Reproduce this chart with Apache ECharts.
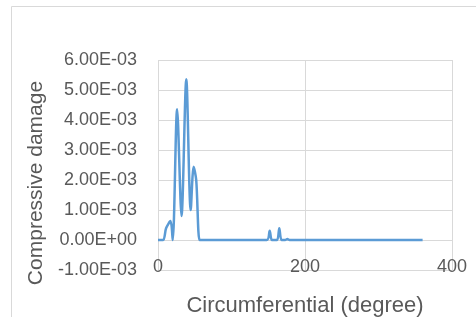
<!DOCTYPE html>
<html lang="en">

<head>
  <meta charset="UTF-8">
  <title>Compressive damage</title>
  <style>
    html, body {
      margin: 0;
      padding: 0;
      background-color: #fff;
    }

    .chart {
      width: 476px;
      height: 317px;
    }
  </style>
</head>

<body>
  <div class="chart"></div>
  <script src="https://cdn.jsdelivr.net/npm/echarts@6/dist/echarts.min.js"></script>
  <script>
    // circumferential position (degree) and compressive damage
    const degrees = [0, 7, 11, 17, 20, 26, 32, 38.5, 44.5, 48.5, 52, 56.5, 60,
      148, 152, 155, 162, 165, 168, 173, 176, 179, 360]
    const damage = [0, 0, 0.39e-3, 0.63e-3, 0, 4.36e-3, 0.8e-3, 5.36e-3, 1.0e-3, 2.44e-3, 2.0e-3, 0, 0,
      0, 0.31e-3, 0, 0, 0.39e-3, 0, 0, 0.03e-3, 0, 0]
    const xTicks = [0, 200, 400]
    const yTicks = [-1e-3, 0, 1e-3, 2e-3, 3e-3, 4e-3, 5e-3, 6e-3]

    const sci = v => {
      if (Math.abs(v) < 1e-12) return '0.00E+00'
      const [m, e] = v.toExponential(2).split('e')
      const n = parseInt(e)
      return m + 'E' + (n < 0 ? '-' : '+') + String(Math.abs(n)).padStart(2, '0')
    }

    const grey = '#595959'
    const font = 'Liberation Sans'

    const option = {
      animation: false,
      grid: {
        left: 158,
        right: 24,
        top: 60,
        bottom: 47,
        outerBoundsMode: 'none'
      },
      graphic: [
        {
          type: 'rect',
          shape: { x: 11.5, y: 6.5, width: 600, height: 400 },
          style: { fill: 'none', stroke: '#d9d9d9', lineWidth: 1 }
        }
      ],
      xAxis: {
        type: 'value',
        min: xTicks[0],
        max: xTicks[xTicks.length - 1],
        interval: 200,
        name: 'Circumferential (degree)',
        nameLocation: 'middle',
        nameGap: 25,
        nameTextStyle: { color: grey, fontSize: 22, fontFamily: font },
        axisLine: { show: false },
        axisTick: { show: false },
        axisLabel: { color: grey, fontSize: 18, fontFamily: font, margin: -12 },
        splitLine: { lineStyle: { color: '#d9d9d9' } }
      },
      yAxis: {
        type: 'value',
        min: yTicks[0],
        max: yTicks[yTicks.length - 1],
        interval: 1e-3,
        name: 'Compressive damage',
        nameLocation: 'middle',
        nameGap: 100,
        nameTextStyle: { color: grey, fontSize: 21, fontFamily: font, padding: [0, 36, 0, 0] },
        axisLine: { show: false },
        axisTick: { show: false },
        axisLabel: {
          color: grey, fontSize: 18, fontFamily: font, margin: 21,
          formatter: v => sci(v)
        },
        splitLine: { lineStyle: { color: '#d9d9d9' } }
      },
      series: [
        {
          type: 'line',
          data: degrees.map((d, i) => [d, damage[i]]),
          smooth: 0.3,
          showSymbol: false,
          lineStyle: { color: '#5b9bd5', width: 2.5 }
        }
      ]
    }

    const myChart = echarts.init(document.querySelector('.chart'))
    myChart.setOption(option)
  </script>
</body>

</html>
